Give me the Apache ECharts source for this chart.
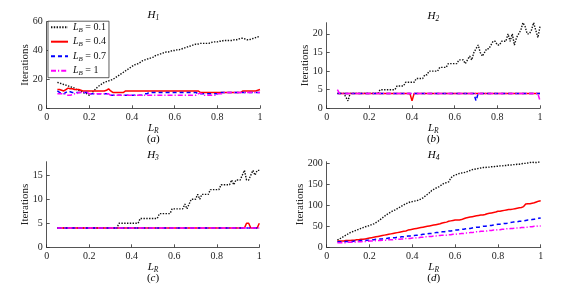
<!DOCTYPE html>
<html><head><meta charset="utf-8">
<script src="https://cdn.jsdelivr.net/npm/echarts@6/dist/echarts.min.js"></script>
<style>html,body{margin:0;padding:0;background:#fff}#c{width:568px;height:293px}</style>
</head><body><div id="c"></div>
<script>
// L_R sample points
const xs = [0.05,0.06,0.07,0.08,0.09,
 0.10,0.11,0.12,0.13,0.14,0.15,0.16,0.17,0.18,0.19,
 0.20,0.21,0.22,0.23,0.24,0.25,0.26,0.27,0.28,0.29,
 0.30,0.31,0.32,0.33,0.34,0.35,0.36,0.37,0.38,0.39,
 0.40,0.41,0.42,0.43,0.44,0.45,0.46,0.47,0.48,0.49,
 0.50,0.51,0.52,0.53,0.54,0.55,0.56,0.57,0.58,0.59,
 0.60,0.61,0.62,0.63,0.64,0.65,0.66,0.67,0.68,0.69,
 0.70,0.71,0.72,0.73,0.74,0.75,0.76,0.77,0.78,0.79,
 0.80,0.81,0.82,0.83,0.84,0.85,0.86,0.87,0.88,0.89,
 0.90,0.91,0.92,0.93,0.94,0.95,0.96,0.97,0.98,0.99,
 1.00];
const seriesNames = ['L_B = 0.1','L_B = 0.4','L_B = 0.7','L_B = 1'];
const legendValues = ['0.1','0.4','0.7','1'];
const panelTitles = ['1','2','3','4'];
const panelTags = ['a','b','c','d'];
const xTicks = [0,0.2,0.4,0.6,0.8,1];
const yTicksH1 = [0,20,40,60];
const yTicksH2 = [0,5,10,15,20];
const yTicksH3 = [0,5,10,15];
const yTicksH4 = [0,50,100,150,200];
const yMax = [60,23,17.8,204];

// H1
const h1_01 = [18,17.5,17,16.5,16,
 15.5,15,14.5,14,13,12.5,12,11,10.5,10,
 9,10.5,12,13.5,15,16,17,18,18.5,19,
 19.5,20,21,22,23,24,25,26,27,28,
 29,30,30.5,31,32,33,33.5,34,34.5,35,
 35.5,36.5,37,37.5,38,38.5,39,39,39.5,40,
 40,40.5,40.5,41,41.5,42,42.5,43,43.5,44,
 44.5,44.5,45,45,45,45,45,45.5,46,46,
 46,46.5,46.5,47,47,47,47,47,47.5,47.5,
 48,48.5,48.5,48,47.5,47.5,48,48.5,49,49.5,
 50];
const h1_04 = [13,13,12.5,12,13,
 14,13.5,13.5,13,13,13,12.5,12,12,12,
 12,12,12,12,12,12,12,12,12.5,13.5,
 12,11,11,11,11,11,11,12,12,12,
 12,12,12,12,12,12,12,12,12,12,
 12,12,12,12,12,12,12,12,12,12,
 12,12,12,12,12,12,12,12,12,12,
 12,12,11,11,11,11,11,11,11,11,
 11,11,11,11,11,11,11,11,11,11,
 11,11,12,12,12,12,12,12,12,12.5,
 13];
const h1_07 = [12,11,10,10,11,
 12,11.5,11,11,11,11,11,11,11,11,
 10,10,10,10,10,10,10,10,10,10,
 9,9,9,9,9,9,9,9,9,9,
 9,9,9,9,9,9,10,10,11,11,
 11,11,11,11,11,11,11,11,11,11,
 11,11,11,11,11,11,11,11,11,11,
 11,10,10,10,10,10,10,10,10,10,
 10,11,11,11,11,11,11,11,11,11,
 11,11,11,11,11,11,11,11,11,11,
 11];
const h1_1 = [10,10,10,10,10,
 9,9,9.5,10,10,11,11,11,11,11,
 10,10,10,10,10,10,10,10,10,10,
 9,9,9,9,9,9,9,9,9,9,
 9,9,9,9,9,9,9,9,9,9,
 9,9,9,9,9,9,9,9,9,9,
 9,9,9,9,9,9,9,9,9,9,
 9,10,10.5,10,9,9,9,9,9,9,
 10,10,10,11,11,11,11,11,11,11,
 11,11,11,11,11,11,11,11,11,11,
 11];

// H2
const h2_01 = [4,4,4,4,3,
 2,4,4,4,4,4,4,4,4,4,
 4,4,4,4,4,5,5,5,5,5,
 5,5,5,6,6,6,6,7,7,7,
 7,7,8,8,8,8,9,9,10,10,
 10,10,10,11,11,11,11,12,12,12,
 12,12,13,13,13,12,13,14,13,15,
 16,17,15,14,15,16,16,17,18,18,
 17,17,18,18,18,20,18,20,17,19,
 20,21,23,22,20,20,21,23,21,19,
 22];
const h2_04 = [4,4,4,4,4,
 4,4,4,4,4,4,4,4,4,4,
 4,4,4,4,4,4,4,4,4,4,
 4,4,4,4,4,4,4,4,4,4,
 2,4,4,4,4,4,4,4,4,4,
 4,4,4,4,4,4,4,4,4,4,
 4,4,4,4,4,4,4,4,4,4,
 4,4,4,4,4,4,4,4,4,4,
 4,4,4,4,4,4,4,4,4,4,
 4,4,4,4,4,4,4,4,4,4,
 4];
const h2_07 = [4,4,4,4,4,
 4,4,4,4,4,4,4,4,4,4,
 4,4,4,4,4,4,4,4,4,4,
 4,4,4,4,4,4,4,4,4,4,
 4,4,4,4,4,4,4,4,4,4,
 4,4,4,4,4,4,4,4,4,4,
 4,4,4,4,4,4,4,4,4,4,
 2,4,4,4,4,4,4,4,4,4,
 4,4,4,4,4,4,4,4,4,4,
 4,4,4,4,4,4,4,4,4,4,
 4];
const h2_1 = [5,4,4,4,4,
 4,4,4,4,4,4,4,4,4,4,
 4,4,4,4,4,4,4,4,4,4,
 4,4,4,4,4,4,4,4,4,4,
 4,4,4,4,4,4,4,4,4,4,
 4,4,4,4,4,4,4,4,4,4,
 4,4,4,4,4,4,4,4,4,4,
 4,4,4,4,4,4,4,4,4,4,
 4,4,4,4,4,4,4,4,4,4,
 4,4,4,4,4,4,4,4,4,4,
 2];

// H3
const h3_01 = [4,4,4,4,4,
 4,4,4,4,4,4,4,4,4,4,
 4,4,4,4,4,4,4,4,4,4,
 4,4,4,4,5,5,5,5,5,5,
 5,5,5,5,6,6,6,6,6,6,
 6,6,6,7,7,7,7,7,7,8,
 8,8,8,8,8,9,8,9,10,10,
 10,11,10,11,11,11,11,12,12,12,
 12,12,13,13,13,13,13,14,13,14,
 14,14,15,16,14,14,15,16,15,16,
 16];
const h3_04 = [4,4,4,4,4,
 4,4,4,4,4,4,4,4,4,4,
 4,4,4,4,4,4,4,4,4,4,
 4,4,4,4,4,4,4,4,4,4,
 4,4,4,4,4,4,4,4,4,4,
 4,4,4,4,4,4,4,4,4,4,
 4,4,4,4,4,4,4,4,4,4,
 4,4,4,4,4,4,4,4,4,4,
 4,4,4,4,4,4,4,4,4,4,
 4,4,4,4,5,5,4,4,4,4,
 5];
const h3_07 = [4,4,4,4,4,
 4,4,4,4,4,4,4,4,4,4,
 4,4,4,4,4,4,4,4,4,4,
 4,4,4,4,4,4,4,4,4,4,
 4,4,4,4,4,4,4,4,4,4,
 4,4,4,4,4,4,4,4,4,4,
 4,4,4,4,4,4,4,4,4,4,
 4,4,4,4,4,4,4,4,4,4,
 4,4,4,4,4,4,4,4,4,4,
 4,4,4,4,4,4,4,4,4,4,
 4];
const h3_1 = [4,4,4,4,4,
 4,4,4,4,4,4,4,4,4,4,
 4,4,4,4,4,4,4,4,4,4,
 4,4,4,4,4,4,4,4,4,4,
 4,4,4,4,4,4,4,4,4,4,
 4,4,4,4,4,4,4,4,4,4,
 4,4,4,4,4,4,4,4,4,4,
 4,4,4,4,4,4,4,4,4,4,
 4,4,4,4,4,4,4,4,4,4,
 4,4,4,4,4,4,4,4,4,4,
 4];

// H4
const h4_01 = [17,20,23,26,29,
 32,35,37,39,41,43,45,47,49,50,
 52,54,56,59,62,66,70,74,78,81,
 84,87,89,92,95,98,101,104,106,108,
 109,110,111,113,115,118,122,126,130,135,
 138,141,143,146,150,153,154,156,165,170,
 172,174,176,177,178,179,181,183,185,186,
 187,188,189,190,190,191,191,192,192,193,
 193,194,194,195,195,196,196,197,197,198,
 198,199,200,200,201,202,203,202,202,203,
 203];
const h4_04 = [15,15,15,15,16,
 16,16,17,17,18,18,19,19,20,21,
 22,23,24,25,26,27,28,29,30,31,
 32,33,34,35,36,37,38,39,41,42,
 43,44,45,46,47,48,49,50,51,52,
 53,54,55,56,58,59,60,62,63,64,
 65,65,65,66,68,70,71,72,73,74,
 75,76,77,77,78,80,81,82,83,84,
 86,86,87,88,89,90,90,91,92,93,
 94,95,97,103,104,104,105,106,108,110,
 111];
const h4_07 = [13,13,13,13,14,
 14,14,14,15,15,15,16,16,16,17,
 17,18,18,19,19,20,20,21,21,22,
 22,23,23,24,24,25,25,26,27,27,
 28,28,29,29,30,31,31,32,33,33,
 34,35,35,36,37,37,38,39,39,40,
 41,41,42,43,43,44,45,45,46,47,
 48,48,49,50,50,51,52,52,53,54,
 55,55,56,57,57,58,59,60,60,61,
 62,62,63,64,65,65,66,67,68,69,
 70];
const h4_1 = [11,11,11,11,11,
 12,12,12,12,13,13,13,14,14,14,
 15,15,15,16,16,16,17,17,17,18,
 18,18,19,19,19,20,20,21,21,21,
 22,22,23,23,24,24,25,25,26,26,
 27,27,28,28,29,29,29,30,30,31,
 31,32,32,33,33,34,34,35,35,36,
 37,37,38,38,39,39,40,40,41,41,
 42,42,43,43,44,44,45,45,46,46,
 46,47,47,48,48,49,49,50,50,51,
 51];

const panels = [
  [h1_01,h1_04,h1_07,h1_1],
  [h2_01,h2_04,h2_07,h2_1],
  [h3_01,h3_04,h3_07,h3_1],
  [h4_01,h4_04,h4_07,h4_1]
];
const yTicks = [yTicksH1,yTicksH2,yTicksH3,yTicksH4];

const FONT = 'Liberation Serif';
const AX = '#2a2a2a';
const rich = {
  i:{fontFamily:FONT,fontStyle:'italic',fontSize:11,color:'#111'},
  s:{fontFamily:FONT,fontStyle:'italic',fontSize:7.5,color:'#111',padding:[6,0,0,0]},
  n:{fontFamily:FONT,fontSize:11,color:'#111'}
};
const lrich = {
  i:{fontFamily:FONT,fontStyle:'italic',fontSize:10,color:'#111'},
  s:{fontFamily:FONT,fontStyle:'italic',fontSize:7,color:'#111',padding:[5,0,0,0]},
  n:{fontFamily:FONT,fontSize:10,color:'#111'}
};

const grids = [
  {left:46.7,top:21.7,width:213.3,height:86.6},
  {left:326.7,top:22.7,width:213.3,height:85.6},
  {left:46.7,top:161.7,width:212.6,height:85.6},
  {left:326.7,top:161.7,width:214,height:85.6}
];
const yNameGap = [16,16,16,21];
const styles = [
  {color:'#111111',width:1.4,type:[1.4,1.4]},
  {color:'#ff0000',width:1.5,type:'solid'},
  {color:'#0000ff',width:1.5,type:[4,3]},
  {color:'#ff00ff',width:1.5,type:[5,2,1.2,2]}
];

const xAxes = grids.map((g,k)=>({
  type:'value',gridIndex:k,min:0,max:1,interval:0.2,
  axisLine:{show:true,lineStyle:{color:AX,width:0.8}},
  axisTick:{show:true,inside:true,length:3,lineStyle:{color:AX,width:0.8}},
  axisLabel:{color:'#222',fontFamily:FONT,fontSize:10,margin:4},
  splitLine:{show:false},
  name:'{i|L}{s|R}',nameLocation:'middle',nameGap:13,nameMoveOverlap:false,
  nameTextStyle:{rich:rich}
}));
const yAxes = grids.map((g,k)=>({
  type:'value',gridIndex:k,min:0,max:yMax[k],
  axisLine:{show:true,lineStyle:{color:AX,width:0.8}},
  axisTick:{show:true,inside:true,length:3,lineStyle:{color:AX,width:0.8},customValues:yTicks[k]},
  axisLabel:{color:'#222',fontFamily:FONT,fontSize:10,margin:4,customValues:yTicks[k]},
  splitLine:{show:false},
  name:'Iterations',nameLocation:'middle',nameGap:yNameGap[k],nameMoveOverlap:false,
  nameTextStyle:{fontFamily:FONT,fontSize:11,color:'#222'}
}));

const series = [];
panels.forEach((arrs,k)=>{
  arrs.forEach((arr,j)=>{
    series.push({
      type:'line',name:seriesNames[j],xAxisIndex:k,yAxisIndex:k,
      data:xs.map((x,i)=>[x,arr[i]]),
      symbol:'none',showSymbol:false,animation:false,silent:true,
      lineStyle:styles[j],itemStyle:{color:styles[j].color},z:2+j
    });
  });
});

const graphics = [];
grids.forEach((g,k)=>{
  const cx = g.left + g.width/2;
  graphics.push({type:'text',x:cx,y:g.top-7,z:10,style:{text:'{i|H}{s|'+panelTitles[k]+'}',rich:rich,align:'center',verticalAlign:'middle'}});
  graphics.push({type:'text',x:cx,y:g.top+g.height+31,z:10,style:{text:'{n|(}{i|'+panelTags[k]+'}{n|)}',rich:rich,align:'center',verticalAlign:'middle'}});
});

const chart = echarts.init(document.getElementById('c'),null,{renderer:'canvas'});
chart.setOption({
  animation:false,
  backgroundColor:'#fff',
  grid:grids,
  xAxis:xAxes,
  yAxis:yAxes,
  series:series,
  graphic:graphics,
  legend:{
    orient:'vertical',left:48,top:21.2,
    data:seriesNames,
    backgroundColor:'#fff',borderColor:'#333',borderWidth:0.8,
    padding:[1,3,1,2],itemWidth:17,itemHeight:8,itemGap:3.5,
    selectedMode:false,z:20,
    itemStyle:{opacity:0},
    formatter:function(n){const j=seriesNames.indexOf(n);return '{i|L}{s|B}{n| = '+legendValues[j]+'}';},
    textStyle:{rich:lrich,fontFamily:FONT,fontSize:10}
  }
});
</script>
</body></html>
